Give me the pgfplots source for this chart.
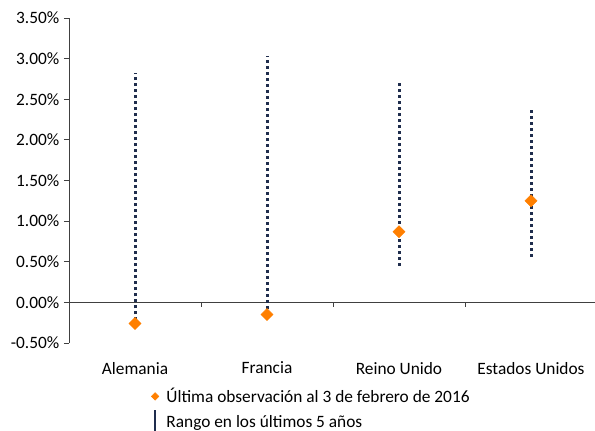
\documentclass[border=0pt]{standalone}
\usepackage{pgfplots}
\pgfplotsset{compat=1.18}
\usepackage{fontspec}
\setmainfont{Carlito}
\definecolor{rangeblue}{HTML}{1F2D4D}
\definecolor{lastorange}{HTML}{FF7F00}
\definecolor{axisgray}{HTML}{404040}
\begin{document}
\begin{tikzpicture}
\useasboundingbox (-51.75pt,-66pt) rectangle (394.5pt,257.25pt);
\begin{axis}[
  at={(0,0)}, anchor=south west,
  width=396pt, height=243.75pt, scale only axis,
  xmin=-0.5, xmax=3.5, ymin=-0.5, ymax=3.5,
  axis y line=left, axis x line=bottom,
  y axis line style={-, axisgray, line width=0.6pt},
  x axis line style={draw=none},
  ytick={-0.5,0,0.5,1,1.5,2,2.5,3,3.5},
  tick align=outside, major tick length=3.75pt,
  y tick style={axisgray, line width=0.6pt},
  x tick style={draw=none},
  yticklabel={\pgfmathprintnumber[fixed,fixed zerofill,precision=2,assume math mode=true]{\tick}\%},
  xtick={0,1,2,3},
  xticklabels={Alemania,Francia,Reino Unido,Estados Unidos},
  ticklabel style={font=\fontsize{13}{15}\selectfont, text=black},
  xticklabel style={yshift=-7pt},
  clip=false,
  legend style={at={(axis description cs:0.155,-0.13)}, anchor=north west,
    draw=none, fill=none, font=\fontsize{13}{15}\selectfont,
    row sep=1pt, inner sep=0pt},
  legend cell align=left,
]
% zero line with category separators
\draw[axisgray, line width=0.6pt] (axis cs:-0.5,0) -- (axis cs:3.5,0);
\pgfplotsinvokeforeach{0.5,1.5,2.5}{
  \draw[axisgray, line width=0.6pt] (axis cs:#1,0) -- ([yshift=-3.75pt]axis cs:#1,0);
}
% five-year ranges
\addplot[rangeblue, line width=2.25pt, dash pattern=on 2.25pt off 2.25pt, forget plot]
  coordinates {(0,-0.22) (0,2.82)};
\addplot[rangeblue, line width=2.25pt, dash pattern=on 2.25pt off 2.25pt, forget plot]
  coordinates {(1,-0.08) (1,3.035)};
\addplot[rangeblue, line width=2.25pt, dash pattern=on 2.25pt off 2.25pt, forget plot]
  coordinates {(2,0.45) (2,2.73)};
\addplot[rangeblue, line width=2.25pt, dash pattern=on 2.25pt off 2.25pt, forget plot]
  coordinates {(3,0.56) (3,2.40)};
% latest observation
\addplot[only marks, mark=square*, mark size=3.2pt, mark options={rotate=45, lastorange, fill=lastorange}, forget plot]
  coordinates {(0,-0.26) (1,-0.15) (2,0.87) (3,1.25)};
\addlegendimage{legend image code/.code={
  \fill[lastorange] (0,0) +(0,2.8pt) -- +(2.8pt,0) -- +(0,-2.8pt) -- +(-2.8pt,0) -- cycle;}}
\addlegendentry{\hspace{3.5pt}Última observación al 3 de febrero de 2016}
\addlegendimage{legend image code/.code={
  \draw[rangeblue, line width=1.6pt] (0,-0.75em) -- (0,0.95em);}}
\addlegendentry{\hspace{3.5pt}Rango en los últimos 5 años}
\end{axis}
\end{tikzpicture}
\end{document}
